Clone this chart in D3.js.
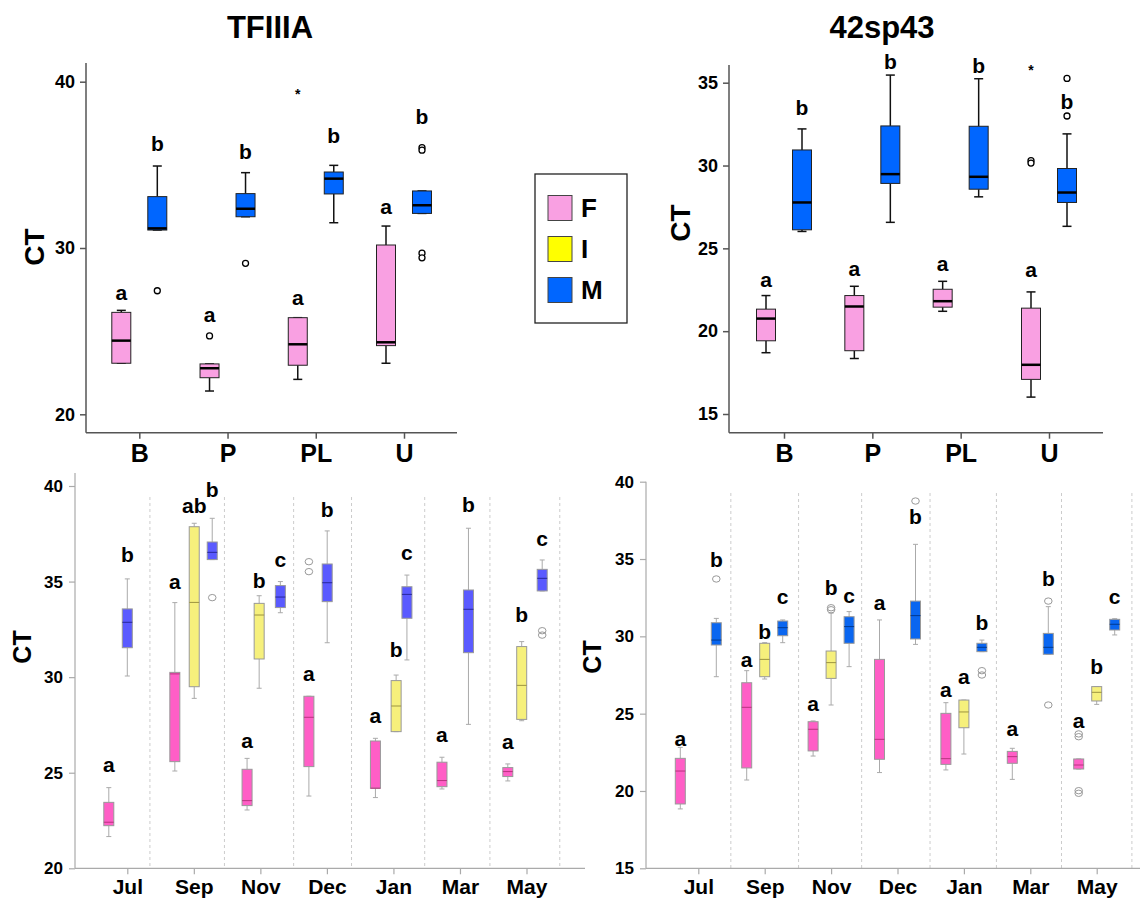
<!DOCTYPE html>
<html>
<head>
<meta charset="utf-8">
<script src="https://cdn.jsdelivr.net/npm/d3@7"></script>
<style>
  body { margin: 0; background: #fff; }
  text { font-family: "Liberation Sans", Arial, sans-serif; font-weight: bold; }
</style>
</head>
<body>
<div id="chart"></div>
<script>
// ---- data: five-number summaries [min, q1, median, q3, max] ----
const topCats = ["B", "P", "PL", "U"];
const months = ["Jul", "Sep", "Nov", "Dec", "Jan", "Mar", "May"];

// TFIIIA by site
const tfSiteF = [[23.07, 23.07, 24.43, 26.13, 26.25], [21.4, 22.2, 22.77, 23.03, 23.03], [22.1, 22.95, 24.21, 25.81, 25.81], [23.07, 24.13, 24.33, 30.18, 31.32]];
const tfSiteM = [[31.08, 31.08, 31.18, 33.09, 34.93], [31.88, 31.88, 32.36, 33.27, 34.53], [31.52, 33.25, 34.17, 34.57, 34.97], [32.08, 32.08, 32.57, 33.43, 33.43]];
const tfSiteLetF = [["a", 27.3], ["a", 26.0], ["a", 27.0], ["a", 32.5]];
const tfSiteLetM = [["b", 36.3], ["b", 35.8], ["b", 36.77], ["b", 37.9]];
const tfSiteOut = [["B", "M", 27.43, "o"], ["P", "F", 24.71, "o"], ["P", "M", 29.08, "o"], ["PL", "F", 39.46, "*"],
                   ["U", "M", 36.04, "o"], ["U", "M", 35.88, "o"], ["U", "M", 29.69, "o"], ["U", "M", 29.41, "o"]];

// 42sp43 by site
const spSiteF = [[18.7, 19.42, 20.76, 21.33, 22.15], [18.35, 18.82, 21.49, 22.15, 22.71], [21.2, 21.45, 21.81, 22.53, 23.01], [16.02, 17.09, 17.97, 21.39, 22.37]];
const spSiteM = [[26.02, 26.12, 27.77, 30.94, 32.21], [26.57, 28.92, 29.48, 32.39, 35.46], [28.11, 28.57, 29.32, 32.37, 35.24], [26.33, 27.77, 28.37, 29.82, 31.91]];
const spSiteLetF = [["a", 23.1], ["a", 23.8], ["a", 24.1], ["a", 23.7]];
const spSiteLetM = [["b", 33.5], ["b", 36.3], ["b", 36.0], ["b", 33.86]];
const spSiteOut = [["U", "M", 35.26, "o"], ["U", "M", 32.99, "o"], ["U", "F", 35.96, "*"], ["U", "F", 30.3, "o"], ["U", "F", 30.15, "o"]];

// TFIIIA by month
const tfMonF = [[21.66, 22.23, 22.41, 23.45, 24.22], [25.09, 25.58, 30.17, 30.25, 33.9], [23.05, 23.28, 23.54, 25.18, 25.75], [23.78, 25.32, 27.9, 29.0, 29.0],
                [23.7, 24.19, 24.19, 26.66, 26.8], [24.15, 24.27, 24.59, 25.55, 25.81], [24.57, 24.8, 25.06, 25.27, 25.46]];
const tfMonI = [null, [28.89, 29.5, 33.91, 37.87, 38.05], [29.42, 30.95, 33.25, 33.86, 34.26], null,
                [27.15, 27.15, 28.49, 29.82, 30.11], null, [27.72, 27.79, 29.57, 31.6, 31.86]];
const tfMonM = [[30.06, 31.54, 32.87, 33.57, 35.14], [36.15, 36.15, 36.53, 37.07, 38.31], [33.37, 33.64, 34.19, 34.79, 35.0], [31.8, 33.95, 34.94, 35.92, 37.65],
                [30.9, 33.08, 34.33, 34.73, 35.34], [27.53, 31.28, 33.55, 34.56, 37.79], [34.51, 34.51, 35.17, 35.64, 36.13]];
const tfMonLetF = [["a", 25.4], ["a", 35.0], ["a", 26.66], ["a", 30.2], ["a", 27.97], ["a", 26.97], ["a", 26.63]];
const tfMonLetI = [null, ["ab", 38.95], ["b", 35.05], null, ["b", 31.46], null, ["b", 33.25]];
const tfMonLetM = [["b", 36.4], ["b", 39.8], ["c", 36.16], ["b", 38.74], ["c", 36.5], ["b", 39.04], ["c", 37.26]];
const tfMonOut = [["Sep", "M", 34.16], ["Dec", "F", 36.04], ["Dec", "F", 35.52], ["May", "M", 32.43], ["May", "M", 32.2]];

// 42sp43 by month
const spMonF = [[18.84, 19.16, 21.29, 22.11, 22.82], [20.71, 21.49, 25.41, 27.0, 27.78], [22.26, 22.59, 23.99, 24.48, 24.53], [21.19, 22.05, 23.34, 28.51, 31.06],
                [21.36, 21.72, 22.09, 25.02, 25.71], [20.75, 21.79, 22.22, 22.56, 22.76], [21.42, 21.42, 21.68, 22.07, 22.07]];
const spMonI = [null, [27.24, 27.39, 28.51, 29.55, 29.59], [25.56, 27.28, 28.3, 29.05, 31.5], null,
                [22.39, 24.09, 25.11, 25.88, 25.88], null, [25.6, 25.82, 26.38, 26.75, 26.75]];
const spMonM = [[27.39, 29.44, 29.76, 30.88, 31.16], [29.59, 30.04, 30.56, 30.99, 31.06], [28.04, 29.55, 30.63, 31.27, 31.6], [29.48, 29.83, 31.34, 32.28, 35.95],
                [29.01, 29.01, 29.29, 29.55, 29.76], [28.84, 28.84, 29.29, 30.19, 31.92], [30.09, 30.41, 30.78, 31.1, 31.14]];
const spMonLetF = [["a", 23.4], ["a", 28.47], ["a", 25.67], ["a", 32.2], ["a", 26.57], ["a", 24.05], ["a", 24.53]];
const spMonLetI = [null, ["b", 30.3], ["b", 33.17], null, ["a", 27.39], null, ["b", 28.04]];
const spMonLetM = [["b", 34.94], ["c", 32.56], ["c", 32.6], ["b", 37.74], ["b", 30.91], ["b", 33.75], ["c", 32.56]];
const spMonOut = [["Jul", "M", 33.71], ["Nov", "I", 31.85], ["Nov", "I", 31.72], ["Dec", "M", 38.75], ["Jan", "M", 27.78], ["Jan", "M", 27.5],
                  ["Mar", "M", 32.28], ["Mar", "M", 25.56], ["May", "F", 23.69], ["May", "F", 23.51], ["May", "F", 20.02], ["May", "F", 19.85]];

const legendKeys = ["F", "I", "M"];
const legendColors = ["#f9a0e2", "#ffff00", "#0066ff"];

// ---- layout ----
const W = 1140, H = 900;
const svg = d3.select("#chart").append("svg").attr("width", W).attr("height", H);

// hand-placed dodges in the lower-left panel (px from month tick)
const tfMonShift = {
    F: [-18.5, -19, -13.3, -18, -18, -18, -18.7],
    I: [0, 0.4, -1.2, 0, 2.7, 0, -4.8],
    M: [0, 18.4, 20, 0.3, 13.5, 8.5, 15.7]
};

const topStyle = { boxW: 19, capW: 9, stroke: "#222", whisker: "#111", whiskerW: 1.5, medW: 2.5, medColor: "#000",
                   axis: "#555", axisW: 1.5, tickFont: 18, catFont: 25, letterFont: 21 };
const botStyle = { boxW: 10, capW: 5, stroke: "#999", whisker: "#aaa", whiskerW: 1, medW: 1, axis: "#aaa", axisW: 1.2,
                   tickFont: 17, catFont: 21, letterFont: 21 };

function drawPanel(cfg) {
    const st = cfg.style;
    const g = svg.append("g");
    const x = d3.scalePoint().domain(cfg.cats).range(cfg.xRange);
    const y = d3.scaleLinear().domain(cfg.yDomain).range(cfg.yRange);
    const idx = d3.scaleLinear().domain([0, cfg.cats.length - 1]).range(cfg.xRange);

    // dashed month separators
    if (cfg.seps) {
        g.selectAll("line.sep").data(cfg.seps).enter().append("line")
            .attr("x1", d => idx(d)).attr("x2", d => idx(d))
            .attr("y1", cfg.sepTop).attr("y2", cfg.axisBottom)
            .attr("stroke", "#ccc").attr("stroke-dasharray", "3,3");
    }

    // y axis
    const ya = g.append("g").attr("transform", `translate(${cfg.axisLeft},0)`)
        .call(d3.axisLeft(y).tickValues(cfg.yTicks).tickSize(6).tickPadding(cfg.yPad).tickFormat(d3.format("d")));
    ya.select(".domain").remove();
    ya.selectAll("line").attr("stroke", st.axis).attr("stroke-width", st.axisW);
    ya.selectAll("text").attr("font-size", st.tickFont).attr("fill", "#000");

    // x axis
    const xa = g.append("g").attr("transform", `translate(0,${cfg.axisBottom})`)
        .call(d3.axisBottom(x).tickSize(6).tickPadding(cfg.xPad));
    xa.select(".domain").remove();
    xa.selectAll("line").attr("stroke", st.axis).attr("stroke-width", st.axisW);
    xa.selectAll("text").attr("font-size", st.catFont).attr("fill", "#000");

    g.append("line").attr("x1", cfg.axisLeft).attr("x2", cfg.axisLeft).attr("y1", cfg.axisTop).attr("y2", cfg.axisBottom)
        .attr("stroke", st.axis).attr("stroke-width", st.axisW);
    g.append("line").attr("x1", cfg.axisLeft).attr("x2", cfg.axisRight).attr("y1", cfg.axisBottom).attr("y2", cfg.axisBottom)
        .attr("stroke", st.axis).attr("stroke-width", st.axisW);

    // titles
    if (cfg.title) {
        svg.append("text").attr("x", cfg.title[1]).attr("y", cfg.title[2]).attr("text-anchor", "middle")
            .attr("font-size", 31).text(cfg.title[0]);
    }
    svg.append("text")
        .attr("transform", `translate(${cfg.ctPos[0]},${cfg.ctPos[1]}) rotate(-90)`)
        .attr("text-anchor", "middle").attr("dy", "0.35em")
        .attr("font-size", cfg.ctFont).text("CT");

    const shiftOf = (gr, i) => Array.isArray(gr.shift) ? gr.shift[i] : gr.shift;

    cfg.groups.forEach(gr => {
        const rows = cfg.cats.map((c, i) => ({ c, i, s: gr.stats[i], let: gr.letters[i] })).filter(d => d.s);
        const cx = d => x(d.c) + shiftOf(gr, d.i);
        const bg = g.append("g");

        // whiskers
        bg.selectAll("line.wl").data(rows).enter().append("line")
            .attr("x1", cx).attr("x2", cx).attr("y1", d => y(d.s[0])).attr("y2", d => y(d.s[1]))
            .attr("stroke", st.whisker).attr("stroke-width", st.whiskerW);
        bg.selectAll("line.wu").data(rows).enter().append("line")
            .attr("x1", cx).attr("x2", cx).attr("y1", d => y(d.s[3])).attr("y2", d => y(d.s[4]))
            .attr("stroke", st.whisker).attr("stroke-width", st.whiskerW);
        [0, 4].forEach(k => {
            bg.selectAll(null).data(rows).enter().append("line")
                .attr("x1", d => cx(d) - st.capW / 2).attr("x2", d => cx(d) + st.capW / 2)
                .attr("y1", d => y(d.s[k])).attr("y2", d => y(d.s[k]))
                .attr("stroke", st.whisker).attr("stroke-width", st.whiskerW);
        });

        // boxes
        bg.selectAll("rect").data(rows).enter().append("rect")
            .attr("x", d => cx(d) - st.boxW / 2).attr("width", st.boxW)
            .attr("y", d => y(d.s[3])).attr("height", d => Math.max(1, y(d.s[1]) - y(d.s[3])))
            .attr("fill", gr.color).attr("stroke", st.stroke).attr("stroke-width", 1);

        // medians
        bg.selectAll("line.med").data(rows).enter().append("line")
            .attr("x1", d => cx(d) - st.boxW / 2).attr("x2", d => cx(d) + st.boxW / 2)
            .attr("y1", d => y(d.s[2])).attr("y2", d => y(d.s[2]))
            .attr("stroke", gr.median || st.medColor).attr("stroke-width", st.medW);

        // significance letters
        bg.selectAll("text").data(rows.filter(d => d.let)).enter().append("text")
            .attr("x", cx).attr("y", d => y(d.let[1])).attr("dy", "0.35em")
            .attr("text-anchor", "middle").attr("font-size", st.letterFont).text(d => d.let[0]);
    });

    // outliers
    const grpByKey = {};
    cfg.groups.forEach(gr => grpByKey[gr.key] = gr);
    cfg.outliers.forEach(o => {
        const gr = grpByKey[o[1]];
        const px = x(o[0]) + shiftOf(gr, cfg.cats.indexOf(o[0]));
        const py = y(o[2]);
        if (o[3] === "*") {
            g.append("text").attr("x", px).attr("y", py).attr("dy", "0.57em")
                .attr("text-anchor", "middle").attr("font-size", 14).attr("font-weight", "normal").text("*");
        } else if (cfg.style === topStyle) {
            g.append("circle").attr("cx", px).attr("cy", py).attr("r", 3)
                .attr("fill", "#fff").attr("stroke", "#000").attr("stroke-width", 1.3);
        } else {
            g.append("ellipse").attr("cx", px).attr("cy", py).attr("rx", 3.8).attr("ry", 3.2)
                .attr("fill", "none").attr("stroke", "#999").attr("stroke-width", 1);
        }
    });
}

drawPanel({
    cats: topCats, xRange: [139.3, 404], yDomain: [20, 40], yRange: [414.3, 81.7], yTicks: [20, 30, 40],
    axisLeft: 86, axisRight: 457, axisTop: 63, axisBottom: 432.7, yPad: 5, xPad: 6,
    style: topStyle, title: ["TFIIIA", 270, 38], ctPos: [34, 247], ctFont: 28,
    groups: [
        { key: "F", stats: tfSiteF, letters: tfSiteLetF, color: legendColors[0], shift: -18 },
        { key: "M", stats: tfSiteM, letters: tfSiteLetM, color: legendColors[2], shift: 18 }
    ],
    outliers: tfSiteOut
});

drawPanel({
    cats: topCats, xRange: [784, 1049], yDomain: [15, 35], yRange: [414, 82.7], yTicks: [15, 20, 25, 30, 35],
    axisLeft: 729, axisRight: 1103, axisTop: 65, axisBottom: 432.7, yPad: 5, xPad: 6,
    style: topStyle, title: ["42sp43", 882, 38], ctPos: [680, 223], ctFont: 28,
    groups: [
        { key: "F", stats: spSiteF, letters: spSiteLetF, color: legendColors[0], shift: -18 },
        { key: "M", stats: spSiteM, letters: spSiteLetM, color: legendColors[2], shift: 18 }
    ],
    outliers: spSiteOut
});

drawPanel({
    cats: months, xRange: [127.3, 526.5], yDomain: [20, 40], yRange: [868.3, 486], yTicks: [20, 25, 30, 35, 40],
    axisLeft: 75, axisRight: 585, axisTop: 473, axisBottom: 868.3, yPad: 6, xPad: 5,
    seps: [0.34, 1.46, 2.5, 3.37, 4.47, 5.45, 6.5], sepTop: 497,
    style: botStyle, ctPos: [22, 647], ctFont: 25,
    groups: [
        { key: "F", stats: tfMonF, letters: tfMonLetF, color: "#ff5ec6", median: "#b8347f", shift: tfMonShift.F },
        { key: "I", stats: tfMonI, letters: tfMonLetI, color: "#f6f07c", median: "#9c9440", shift: tfMonShift.I },
        { key: "M", stats: tfMonM, letters: tfMonLetM, color: "#5a5aff", median: "#27279a", shift: tfMonShift.M }
    ],
    outliers: tfMonOut
});

drawPanel({
    cats: months, xRange: [698.3, 1096.7], yDomain: [15, 40], yRange: [868.3, 481.7], yTicks: [15, 20, 25, 30, 35, 40],
    axisLeft: 646, axisRight: 1140, axisTop: 481.7, axisBottom: 868.3, yPad: 6, xPad: 5,
    seps: [0.49, 1.51, 2.46, 3.49, 4.49, 5.47, 6.53], sepTop: 493,
    style: botStyle, ctPos: [592, 657], ctFont: 25,
    groups: [
        { key: "F", stats: spMonF, letters: spMonLetF, color: "#ff5ec6", median: "#b8347f", shift: -18 },
        { key: "I", stats: spMonI, letters: spMonLetI, color: "#f6f07c", median: "#9c9440", shift: 0 },
        { key: "M", stats: spMonM, letters: spMonLetM, color: "#0a66f0", median: "#003a90", shift: 18 }
    ],
    outliers: spMonOut
});

// legend
const lg = svg.append("g");
lg.append("rect").attr("x", 535).attr("y", 174).attr("width", 92).attr("height", 149)
    .attr("fill", "#fff").attr("stroke", "#222").attr("stroke-width", 1.3);
const ly = d3.scalePoint().domain(legendKeys).range([208, 290]);
lg.selectAll("rect.sw").data(legendKeys).enter().append("rect")
    .attr("x", 548).attr("y", d => ly(d) - 12.5).attr("width", 24).attr("height", 25)
    .attr("fill", (d, i) => legendColors[i]).attr("stroke", "#444").attr("stroke-width", 1);
lg.selectAll("text").data(legendKeys).enter().append("text")
    .attr("x", 581).attr("y", d => ly(d)).attr("dy", "0.36em")
    .attr("font-size", 26).text(d => d);
</script>
</body>
</html>
